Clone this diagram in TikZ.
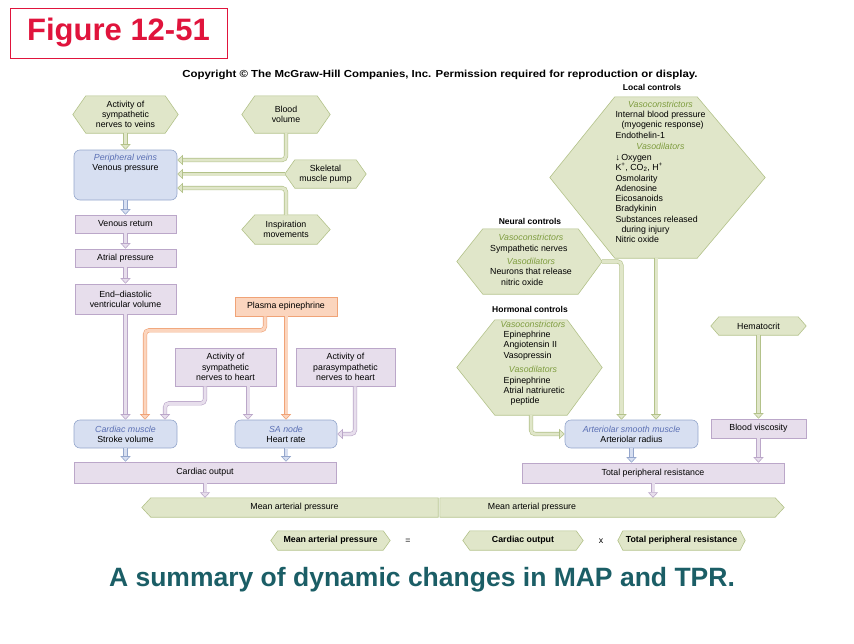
\documentclass[tikz,border=0pt]{standalone}
\usepackage{fontspec}
\usepackage{graphicx}
\setmainfont{Liberation Sans}
\usetikzlibrary{arrows.meta,backgrounds,positioning}

\definecolor{gfill}{HTML}{E0E6C9}
\definecolor{gline}{HTML}{B3C28A}
\definecolor{pfill}{HTML}{E7DEEC}
\definecolor{pline}{HTML}{BBA7C9}
\definecolor{bfill}{HTML}{D7DFF1}
\definecolor{bline}{HTML}{94A6CC}
\definecolor{ofill}{HTML}{FBD5BE}
\definecolor{oline}{HTML}{F0A377}
\definecolor{vgreen}{HTML}{7E9C3E}
\definecolor{vblue}{HTML}{5A6FB4}
\definecolor{figred}{HTML}{E0143C}
\definecolor{titleteal}{HTML}{1B5E66}

\newcommand{\vc}[1]{\textcolor{vgreen}{\itshape #1}}
\newcommand{\vb}[1]{\textcolor{vblue}{\itshape #1}}
% green hexagon behind a node: node, left point, right point
\newcommand{\hexbg}[3]{%
  \begin{scope}[on background layer]
    \filldraw[hexcol] (#1.north west) -- (#1.north east) -- ([xshift=#3]#1.east)
      -- (#1.south east) -- (#1.south west) -- ([xshift=-#2]#1.west) -- cycle;
  \end{scope}}

\tikzset{
  every node/.style={font=\fontsize{8.8}{10.3}\selectfont, inner sep=0pt, align=center},
  hdr/.style={font=\bfseries\fontsize{8.5}{10}\selectfont},
  pbox/.style={draw=pline, fill=pfill, line width=0.6pt},
  obox/.style={draw=oline, fill=ofill, line width=0.6pt},
  bbox/.style={draw=bline, fill=bfill, line width=0.6pt, rounded corners=6pt},
  hexcol/.style={draw=gline, fill=gfill, line width=0.6pt},
  flow/.style 2 args={draw=#1, double=#2, double distance=3pt, line width=0.6pt,
    rounded corners=4pt, -{Triangle[width=10pt,length=5.5pt,fill=#2,color=#1,line width=0.6pt]}},
  gflow/.style={flow={gline}{gfill}},
  pflow/.style={flow={pline}{pfill}},
  bflow/.style={flow={bline}{bfill}},
  oflow/.style={flow={oline}{ofill}}
}

\begin{document}
\begin{tikzpicture}[x=1pt,y=-1pt]
\useasboundingbox (0,0) rectangle (854,643);

% header
\node[draw=figred, line width=0.8pt, minimum width=217pt, minimum height=50pt, text=figred,
  font=\bfseries\fontsize{31}{36}\selectfont] (fig) at (118.5,33) {Figure 12-51};
\node[font=\bfseries\fontsize{10.2}{12}\selectfont] (copy) at (440,75)
  {\scalebox{1.12}[1]{Copyright \textcopyright{} The McGraw-Hill Companies, Inc. Permission required for reproduction or display.}};

% venous side
\node[minimum width=79pt, minimum height=37pt] (avveins) at (125.5,114.5) {Activity of\\sympathetic\\nerves to veins};
\hexbg{avveins}{13pt}{13pt}
\node[minimum width=62pt, minimum height=37pt] (bvol) at (286,114.5) {Blood\\volume};
\hexbg{bvol}{13pt}{13pt}
\node[bbox, minimum width=103pt, minimum height=50pt] (veins) at (125.5,175) {};
\node[below=4pt of veins.north] (veinstxt) {\vb{Peripheral veins}\\Venous pressure};
\node[minimum width=61pt, minimum height=28pt] (skel) at (325.5,174) {Skeletal\\muscle pump};
\hexbg{skel}{10pt}{10pt}
\node[minimum width=62pt, minimum height=29pt] (insp) at (286,229.5) {Inspiration\\movements};
\hexbg{insp}{13pt}{13pt}
\node[pbox, minimum width=101pt, minimum height=18pt] (vret) at (125.5,224) {Venous return};
\node[pbox, minimum width=101pt, minimum height=18pt] (atr) at (125.5,258) {Atrial pressure};
\node[pbox, minimum width=101pt, minimum height=30pt] (edv) at (125.5,299) {End--diastolic\\ventricular volume};

% heart
\node[obox, minimum width=102pt, minimum height=19pt] (plasma) at (286,306.5) {Plasma epinephrine};
\node[pbox, minimum width=101pt, minimum height=38pt] (symh) at (225.5,367) {Activity of\\sympathetic\\nerves to heart};
\node[pbox, minimum width=99pt, minimum height=38pt] (parah) at (345.5,367) {Activity of\\parasympathetic\\nerves to heart};
\node[bbox, minimum width=103pt, minimum height=28pt] (cmus) at (125.5,434) {\vb{Cardiac muscle}\\Stroke volume};
\node[bbox, minimum width=102pt, minimum height=28pt] (sa) at (286,434) {\vb{SA node}\\Heart rate};
\node[pbox, minimum width=262pt, minimum height=21pt] (co) at (205,472.5) {Cardiac output};

% arterioles
\node[hdr] (localhdr) at (652,87) {Local controls};
\node[minimum width=82pt, minimum height=161pt] (localc) at (656,177.5) {};
\hexbg{localc}{65pt}{68pt}
\node (localtxt) at (660.5,173) {\begin{tabular}{@{}l@{}}
  \multicolumn{1}{@{}c@{}}{\vc{Vasoconstrictors}}\\
  Internal blood pressure\\
  \hspace{6pt}(myogenic response)\\
  Endothelin-1\\[1.5pt]
  \multicolumn{1}{@{}c@{}}{\vc{Vasodilators}}\\
  ↓\,Oxygen\\
  K\textsuperscript{+}, CO\textsubscript{2}, H\textsuperscript{+}\\
  Osmolarity\\
  Adenosine\\
  Eicosanoids\\
  Bradykinin\\
  Substances released\\
  \hspace{6pt}during injury\\
  Nitric oxide
\end{tabular}};

\node[hdr] (neurhdr) at (530,221) {Neural controls};
\node[minimum width=95pt, minimum height=65pt] (neural) at (530.5,261.5) {};
\hexbg{neural}{26pt}{24pt}
\node (neurtxt) at (531,261) {\begin{tabular}{@{}l@{}}
  \multicolumn{1}{@{}c@{}}{\vc{Vasoconstrictors}}\\
  Sympathetic nerves\\[3pt]
  \multicolumn{1}{@{}c@{}}{\vc{Vasodilators}}\\
  Neurons that release\\
  \hspace{11pt}nitric oxide
\end{tabular}};

\node[hdr] (hormhdr) at (530,309) {Hormonal controls};
\node[minimum width=72pt, minimum height=95pt] (horm) at (531,367.5) {};
\hexbg{horm}{38pt}{35pt}
\node (hormtxt) at (533,363.5) {\begin{tabular}{@{}l@{}}
  \multicolumn{1}{@{}c@{}}{\vc{Vasoconstrictors}}\\
  \hspace{3pt}Epinephrine\\
  \hspace{3pt}Angiotensin II\\
  \hspace{3pt}Vasopressin\\[4.5pt]
  \multicolumn{1}{@{}c@{}}{\vc{Vasodilators}}\\
  \hspace{3pt}Epinephrine\\
  \hspace{3pt}Atrial natriuretic\\
  \hspace{10pt}peptide
\end{tabular}};

\node[bbox, minimum width=133pt, minimum height=28pt] (art) at (631.5,434) {\vb{Arteriolar smooth muscle}\\Arteriolar radius};
\node[minimum width=79pt, minimum height=18pt] (hct) at (758.5,326) {Hematocrit};
\hexbg{hct}{8pt}{8pt}
\node[pbox, minimum width=95pt, minimum height=19pt] (bvis) at (758.5,428.5) {Blood viscosity};
\node[pbox, minimum width=262pt, minimum height=20pt] (tpr) at (653,473) {Total peripheral resistance};

% mean arterial pressure
\node[minimum width=287pt, minimum height=19pt] (mapL) at (294.5,507.5) {Mean arterial pressure};
\hexbg{mapL}{9pt}{0pt}
\node[minimum width=335pt, minimum height=19pt] (mapR) at (607.5,507.5) {};
\hexbg{mapR}{0pt}{9pt}
\node (mapRtxt) at (532,507.5) {Mean arterial pressure};

\node[font=\bfseries\fontsize{8.8}{10.3}\selectfont, minimum width=105pt, minimum height=19pt] (mapEq) at (330.5,540.5) {Mean arterial pressure};
\hexbg{mapEq}{7pt}{7pt}
\node (eq) at (408,541) {=};
\node[font=\bfseries\fontsize{8.8}{10.3}\selectfont, minimum width=106pt, minimum height=19pt] (coEq) at (523,540.5) {Cardiac output};
\hexbg{coEq}{7pt}{7pt}
\node (times) at (601,541) {x};
\node[font=\bfseries\fontsize{8.8}{10.3}\selectfont, minimum width=117pt, minimum height=19pt] (tprEq) at (681.5,540.5) {Total peripheral resistance};
\hexbg{tprEq}{5pt}{5pt}

\node[font=\bfseries\fontsize{26.5}{30}\selectfont, text=titleteal] (title) at (422,580) {A summary of dynamic changes in MAP and TPR.};

% connectors, venous side
\draw[gflow] (avveins.south) -- (veins.north);
\draw[gflow] (bvol.south) |- ([yshift=15pt]veins.east);
\draw[gflow] ([xshift=-10pt]skel.west) -- (veins.east |- skel.west);
\draw[gflow] (insp.north) |- ([yshift=-13pt]veins.east);
\draw[bflow] (veins.south) -- (vret.north);
\draw[pflow] (vret.south) -- (atr.north);
\draw[pflow] (atr.south) -- (edv.north);
\draw[pflow] (edv.south) -- (cmus.north);

% connectors, heart
\draw[oflow] ([xshift=-21pt]plasma.south) -- ++(0,14) -| ([xshift=19.5pt]cmus.north);
\draw[oflow] (plasma.south) -- (sa.north);
\draw[pflow] ([xshift=-20.5pt]symh.south) -- ++(0,17) -| ([xshift=39.5pt]cmus.north);
\draw[pflow] ([xshift=22.5pt]symh.south) -- ([xshift=-38pt]sa.north);
\draw[pflow] ([xshift=9.5pt]parah.south) |- (sa.east);
\draw[bflow] (cmus.south) -- (cmus.south |- co.north);
\draw[bflow] (sa.south) -- (sa.south |- co.north);
\draw[pflow] (co.south) -- (co.south |- mapL.north);

% connectors, arterioles
\draw[gflow] ([xshift=24pt]neural.east) -| ([xshift=-10pt]art.north);
\draw[gflow] (localc.south) -- (localc.south |- art.north);
\draw[gflow] (horm.south) |- (art.west);
\draw[gflow] (hct.south) -- (bvis.north);
\draw[bflow] (art.south) -- (art.south |- tpr.north);
\draw[pflow] (bvis.south) -- (bvis.south |- tpr.north);
\draw[pflow] (tpr.south) -- (tpr.south |- mapR.north);
\end{tikzpicture}
\end{document}
